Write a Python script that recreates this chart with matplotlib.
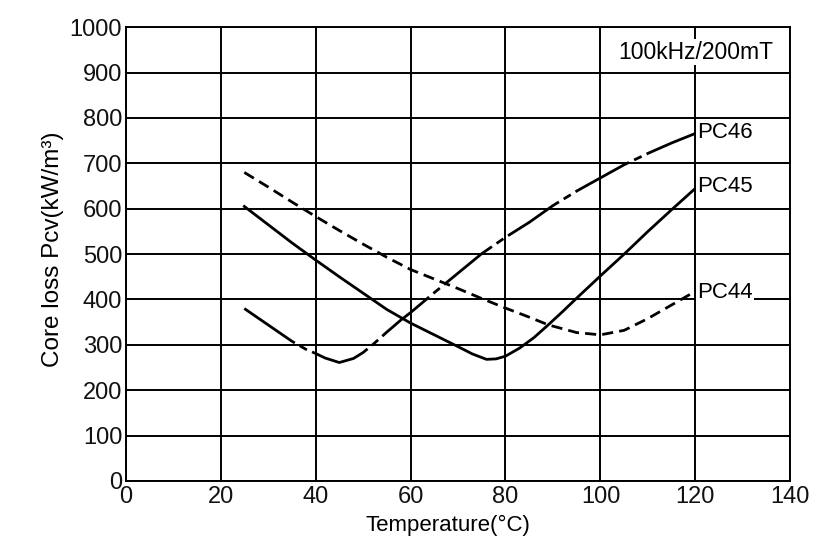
import matplotlib
matplotlib.use("Agg")
import matplotlib.pyplot as plt

plt.rcParams['font.family'] = ['Liberation Sans', 'DejaVu Sans']

pc44_t = [25, 30, 35, 40, 45, 50, 55, 60, 65, 70, 75, 80, 85, 89, 95, 100, 105, 110, 115, 120]
pc44 = [680, 648, 615, 583, 552, 522, 493, 466, 445, 424, 402, 381, 361, 344, 327, 322, 332, 358, 388, 418]
pc45_t = [25, 30, 35, 40, 45, 50, 55, 60, 65, 70, 73, 76, 78, 80, 83, 86, 89, 92, 95, 100, 105, 110, 115, 120]
pc45 = [605, 565, 525, 487, 450, 414, 378, 348, 322, 296, 280, 268, 269, 275, 293, 316, 344, 373, 403, 452, 500, 550, 598, 645]
pc46_t = [25, 30, 35, 38, 40, 42, 45, 48, 50, 52, 55, 58, 60, 65, 70, 75, 80, 85, 90, 95, 100, 105, 110, 115, 120]
pc46 = [380, 344, 308, 290, 281, 271, 261, 270, 283, 300, 328, 355, 371, 415, 458, 501, 537, 570, 607, 639, 668, 697, 722, 745, 766]

x_ticks = [0, 20, 40, 60, 80, 100, 120, 140]
y_ticks = [0, 100, 200, 300, 400, 500, 600, 700, 800, 900, 1000]

fig = plt.figure(figsize=(8.32, 5.56), dpi=100)
ax = fig.add_subplot(111)
fig.subplots_adjust(left=0.151, right=0.950, bottom=0.135, top=0.951)

ax.set_xlim(0, 140)
ax.set_ylim(0, 1000)
ax.set_xticks(x_ticks)
ax.set_yticks(y_ticks)
ax.grid(True, color='black', linewidth=1.4)
ax.set_axisbelow(True)
for s in ax.spines.values():
    s.set_linewidth(1.4)
    s.set_color('black')
ax.tick_params(length=0, labelsize=17, colors='#111111')
ax.tick_params(axis='y', pad=2.5)
ax.tick_params(axis='x', pad=4)

ax.plot(pc44_t, pc44, color='black', linewidth=2.0, dashes=(4, 2.2))
ax.plot(pc45_t, pc45, color='black', linewidth=2.0)
ax.plot(pc46_t, pc46, color='black', linewidth=2.0, dashes=(22, 2, 3, 2))

bbox = dict(facecolor='white', edgecolor='none', pad=1)
ax.text(120.4, 769, 'PC46', ha='left', va='center', fontsize=16, bbox=bbox)
ax.text(120.4, 648, 'PC45', ha='left', va='center', fontsize=16, bbox=bbox)
ax.text(120.4, 416, 'PC44', ha='left', va='center', fontsize=16, bbox=bbox)
ax.text(120.0, 945, '100kHz/200mT', ha='center', va='center', fontsize=16.5, bbox=bbox)

ax.set_xlabel('Temperature(°C)', fontsize=16, labelpad=5)
ax.xaxis.set_label_coords(0.485, -0.075)
ax.set_ylabel('Core loss Pcv(kW/m³)', fontsize=17.5, labelpad=6)
ax.yaxis.set_label_coords(-0.092, 0.51)

fig.savefig('out.png', dpi=100, facecolor='white')
